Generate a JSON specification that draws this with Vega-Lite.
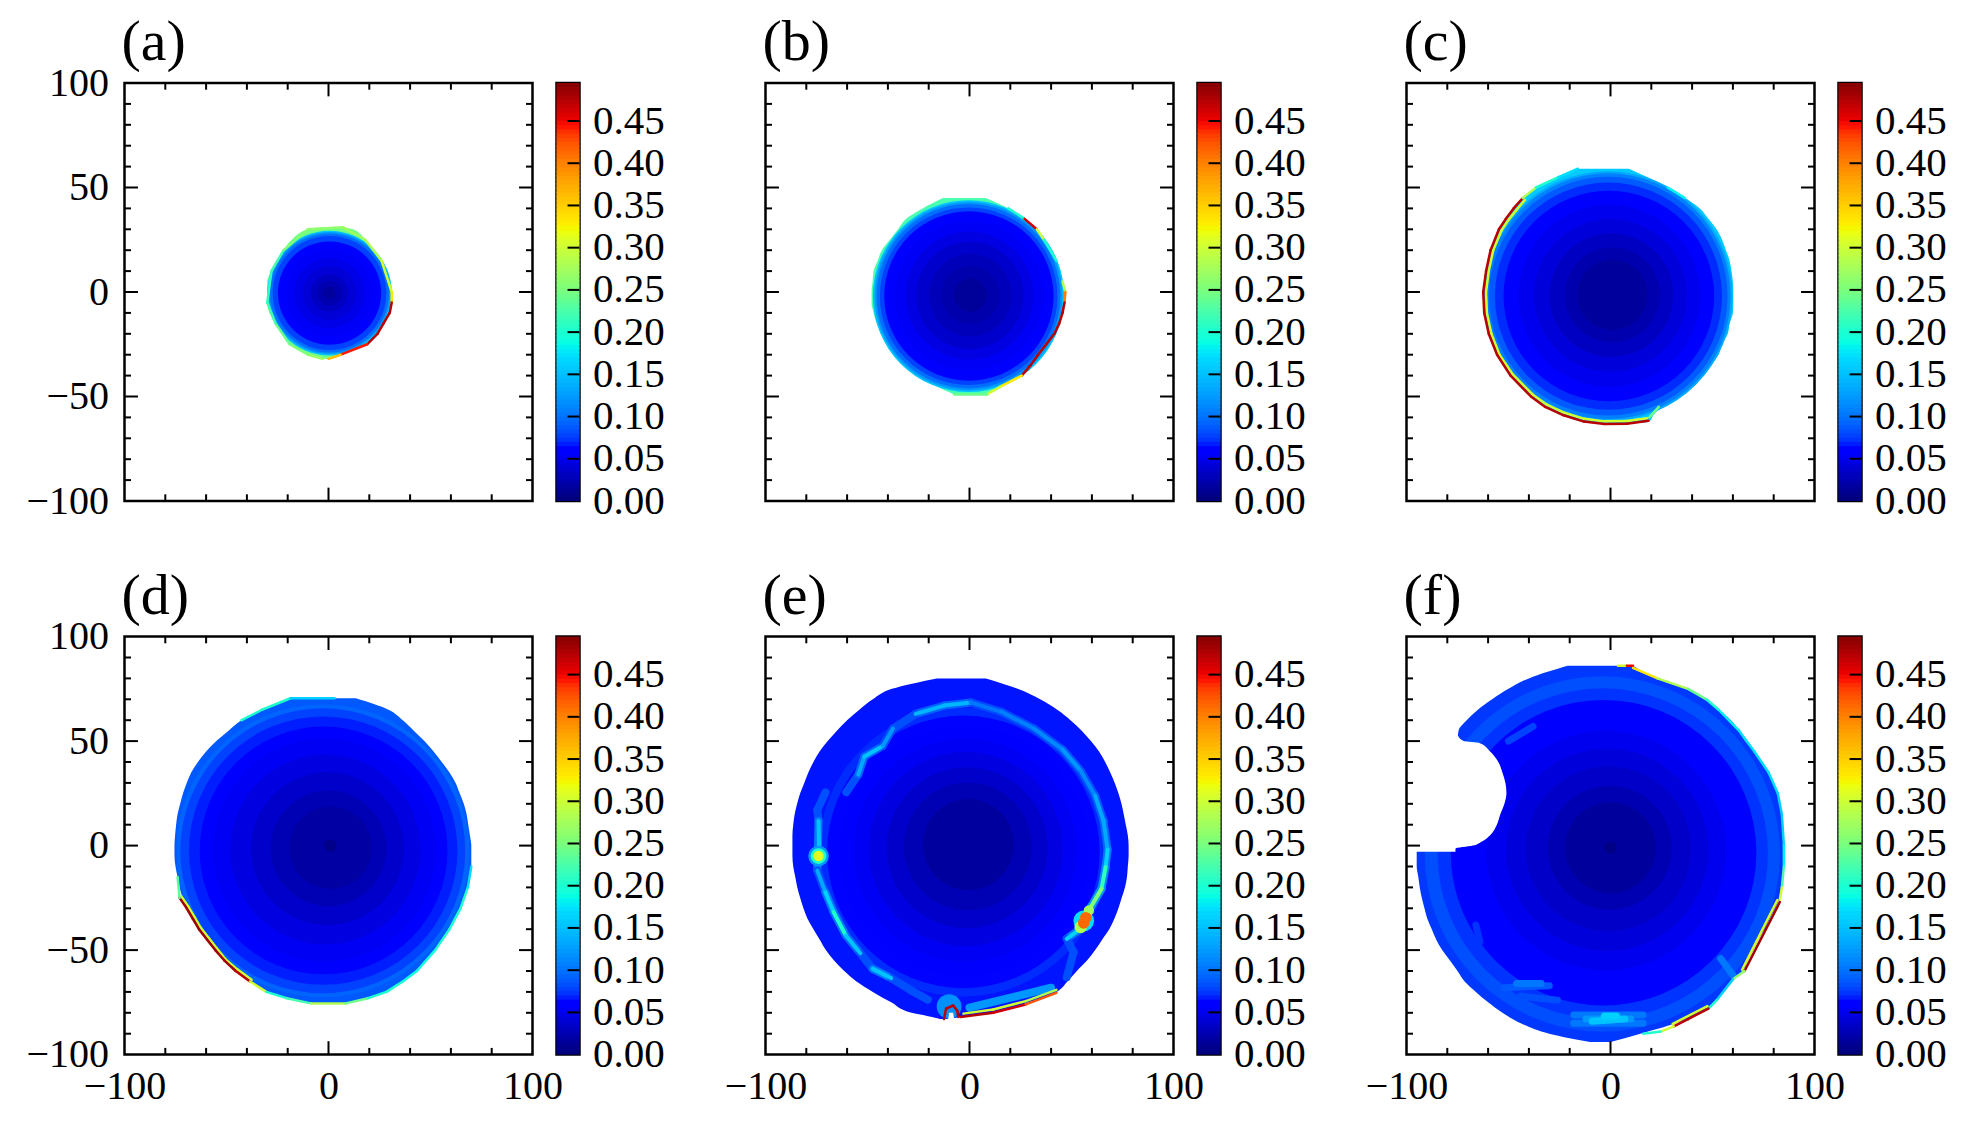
{"$schema":"https://vega.github.io/schema/vega-lite/v6.json","padding":{"left":24.5,"top":12,"right":10,"bottom":5},"background":"white",
"config":{"view":{"stroke":"black","strokeWidth":2.5},"axis":{"grid":false,"ticks":false,"domain":false,"title":null,"labelFont":"Liberation Serif","labelFontSize":40,"labelColor":"black","labelFlush":false,"labelOverlap":false,"labelBound":false},"title":{"font":"Liberation Serif","fontSize":58,"fontWeight":"normal","color":"black","anchor":"start","frame":"group","offset":10,"dx":-3}},
"datasets":{
"ticks":[{"x":-80,"y":-100,"x2":-80,"y2":-96.8},{"x":-60,"y":-100,"x2":-60,"y2":-96.8},{"x":-40,"y":-100,"x2":-40,"y2":-96.8},{"x":-20,"y":-100,"x2":-20,"y2":-96.8},{"x":0,"y":-100,"x2":0,"y2":-93.6},{"x":20,"y":-100,"x2":20,"y2":-96.8},{"x":40,"y":-100,"x2":40,"y2":-96.8},{"x":60,"y":-100,"x2":60,"y2":-96.8},{"x":80,"y":-100,"x2":80,"y2":-96.8},
{"x":-80,"y":100,"x2":-80,"y2":96.8},{"x":-60,"y":100,"x2":-60,"y2":96.8},{"x":-40,"y":100,"x2":-40,"y2":96.8},{"x":-20,"y":100,"x2":-20,"y2":96.8},{"x":0,"y":100,"x2":0,"y2":93.6},{"x":20,"y":100,"x2":20,"y2":96.8},{"x":40,"y":100,"x2":40,"y2":96.8},{"x":60,"y":100,"x2":60,"y2":96.8},{"x":80,"y":100,"x2":80,"y2":96.8},
{"x":-100,"y":90,"x2":-96.8,"y2":90},{"x":-100,"y":80,"x2":-96.8,"y2":80},{"x":-100,"y":70,"x2":-96.8,"y2":70},{"x":-100,"y":60,"x2":-96.8,"y2":60},{"x":-100,"y":50,"x2":-93.4,"y2":50},{"x":-100,"y":40,"x2":-96.8,"y2":40},{"x":-100,"y":30,"x2":-96.8,"y2":30},{"x":-100,"y":20,"x2":-96.8,"y2":20},{"x":-100,"y":10,"x2":-96.8,"y2":10},{"x":-100,"y":0,"x2":-93.4,"y2":0},{"x":-100,"y":-10,"x2":-96.8,"y2":-10},{"x":-100,"y":-20,"x2":-96.8,"y2":-20},{"x":-100,"y":-30,"x2":-96.8,"y2":-30},{"x":-100,"y":-40,"x2":-96.8,"y2":-40},{"x":-100,"y":-50,"x2":-93.4,"y2":-50},{"x":-100,"y":-60,"x2":-96.8,"y2":-60},{"x":-100,"y":-70,"x2":-96.8,"y2":-70},{"x":-100,"y":-80,"x2":-96.8,"y2":-80},{"x":-100,"y":-90,"x2":-96.8,"y2":-90},
{"x":100,"y":90,"x2":96.8,"y2":90},{"x":100,"y":80,"x2":96.8,"y2":80},{"x":100,"y":70,"x2":96.8,"y2":70},{"x":100,"y":60,"x2":96.8,"y2":60},{"x":100,"y":50,"x2":93.4,"y2":50},{"x":100,"y":40,"x2":96.8,"y2":40},{"x":100,"y":30,"x2":96.8,"y2":30},{"x":100,"y":20,"x2":96.8,"y2":20},{"x":100,"y":10,"x2":96.8,"y2":10},{"x":100,"y":0,"x2":93.4,"y2":0},{"x":100,"y":-10,"x2":96.8,"y2":-10},{"x":100,"y":-20,"x2":96.8,"y2":-20},{"x":100,"y":-30,"x2":96.8,"y2":-30},{"x":100,"y":-40,"x2":96.8,"y2":-40},{"x":100,"y":-50,"x2":93.4,"y2":-50},{"x":100,"y":-60,"x2":96.8,"y2":-60},{"x":100,"y":-70,"x2":96.8,"y2":-70},{"x":100,"y":-80,"x2":96.8,"y2":-80},{"x":100,"y":-90,"x2":96.8,"y2":-90}],
"bar":[{"v":0,"w":0.006},{"v":0.005,"w":0.011},{"v":0.01,"w":0.016},{"v":0.015,"w":0.021},{"v":0.02,"w":0.026},{"v":0.025,"w":0.031},{"v":0.03,"w":0.036},{"v":0.035,"w":0.041},{"v":0.04,"w":0.046},{"v":0.045,"w":0.051},{"v":0.05,"w":0.056},{"v":0.055,"w":0.061},{"v":0.06,"w":0.066},{"v":0.065,"w":0.071},{"v":0.07,"w":0.076},{"v":0.075,"w":0.081},{"v":0.08,"w":0.086},{"v":0.085,"w":0.091},{"v":0.09,"w":0.096},{"v":0.095,"w":0.101},{"v":0.1,"w":0.106},{"v":0.105,"w":0.111},{"v":0.11,"w":0.116},{"v":0.115,"w":0.121},{"v":0.12,"w":0.126},{"v":0.125,"w":0.131},{"v":0.13,"w":0.136},{"v":0.135,"w":0.141},{"v":0.14,"w":0.146},{"v":0.145,"w":0.151},{"v":0.15,"w":0.156},{"v":0.155,"w":0.161},{"v":0.16,"w":0.166},{"v":0.165,"w":0.171},{"v":0.17,"w":0.176},{"v":0.175,"w":0.181},{"v":0.18,"w":0.186},{"v":0.185,"w":0.191},{"v":0.19,"w":0.196},{"v":0.195,"w":0.201},{"v":0.2,"w":0.206},{"v":0.205,"w":0.211},{"v":0.21,"w":0.216},{"v":0.215,"w":0.221},{"v":0.22,"w":0.226},{"v":0.225,"w":0.231},{"v":0.23,"w":0.236},{"v":0.235,"w":0.241},{"v":0.24,"w":0.246},{"v":0.245,"w":0.251},{"v":0.25,"w":0.256},{"v":0.255,"w":0.261},{"v":0.26,"w":0.266},{"v":0.265,"w":0.271},{"v":0.27,"w":0.276},{"v":0.275,"w":0.281},{"v":0.28,"w":0.286},{"v":0.285,"w":0.291},{"v":0.29,"w":0.296},{"v":0.295,"w":0.301},{"v":0.3,"w":0.306},{"v":0.305,"w":0.311},{"v":0.31,"w":0.316},{"v":0.315,"w":0.321},{"v":0.32,"w":0.326},{"v":0.325,"w":0.331},{"v":0.33,"w":0.336},{"v":0.335,"w":0.341},{"v":0.34,"w":0.346},{"v":0.345,"w":0.351},{"v":0.35,"w":0.356},{"v":0.355,"w":0.361},{"v":0.36,"w":0.366},{"v":0.365,"w":0.371},{"v":0.37,"w":0.376},{"v":0.375,"w":0.381},{"v":0.38,"w":0.386},{"v":0.385,"w":0.391},{"v":0.39,"w":0.396},{"v":0.395,"w":0.401},{"v":0.4,"w":0.406},{"v":0.405,"w":0.411},{"v":0.41,"w":0.416},{"v":0.415,"w":0.421},{"v":0.42,"w":0.426},{"v":0.425,"w":0.431},{"v":0.43,"w":0.436},{"v":0.435,"w":0.441},{"v":0.44,"w":0.446},{"v":0.445,"w":0.451},{"v":0.45,"w":0.456},{"v":0.455,"w":0.461},{"v":0.46,"w":0.466},{"v":0.465,"w":0.471},{"v":0.47,"w":0.476},{"v":0.475,"w":0.481},{"v":0.48,"w":0.486},{"v":0.485,"w":0.491},{"v":0.49,"w":0.495}],
"barticks":[{"v":0.05,"x":0.48,"x2":1},{"v":0.1,"x":0.48,"x2":1},{"v":0.15,"x":0.48,"x2":1},{"v":0.2,"x":0.48,"x2":1},{"v":0.25,"x":0.48,"x2":1},{"v":0.3,"x":0.48,"x2":1},{"v":0.35,"x":0.48,"x2":1},{"v":0.4,"x":0.48,"x2":1},{"v":0.45,"x":0.48,"x2":1}],
"sa":[{"y":31,"x":-3,"x2":7},{"y":30,"x":-10,"x2":12},{"y":25,"x":-18,"x2":18},{"y":20,"x":-22,"x2":22},{"y":15,"x":-25,"x2":26},{"y":10,"x":-28,"x2":28},{"y":5,"x":-30,"x2":30},{"y":0,"x":-30,"x2":31},{"y":-5,"x":-30,"x2":31},{"y":-10,"x":-29,"x2":30},{"y":-15,"x":-26,"x2":27},{"y":-20,"x":-23,"x2":24},{"y":-25,"x":-19,"x2":19},{"y":-30,"x":-10,"x2":6},{"y":-32,"x":-3,"x2":0}],
"da":[{"x":0.5,"y":-0.5,"r":30.2,"v":0.15},{"x":0.5,"y":-0.5,"r":29.6,"v":0.12},{"x":0.5,"y":-0.5,"r":28.8,"v":0.095},{"x":0.5,"y":-0.5,"r":27.5,"v":0.075},{"x":0.5,"y":-0.5,"r":25,"v":0.061},{"x":0.5,"y":-0.5,"r":21,"v":0.052},{"x":0.5,"y":-0.5,"r":17,"v":0.045},{"x":0.5,"y":-0.5,"r":13,"v":0.038},{"x":0.5,"y":-0.5,"r":9,"v":0.03},{"x":0.5,"y":-0.5,"r":6,"v":0.022},{"x":0.5,"y":-0.5,"r":3,"v":0.013}],
"ra":[{"x":-3,"y":-32,"x2":-10,"y2":-30,"v":0.27},{"x":-10,"y":-30,"x2":-19,"y2":-25,"v":0.25},{"x":-19,"y":-25,"x2":-26,"y2":-15,"v":0.24},{"x":-26,"y":-15,"x2":-30,"y2":-5,"v":0.22},{"x":-30,"y":-5,"x2":-28,"y2":10,"v":0.21},{"x":-28,"y":10,"x2":-22,"y2":20,"v":0.22},{"x":-22,"y":20,"x2":-10,"y2":30,"v":0.25},{"x":-10,"y":30,"x2":7,"y2":31,"v":0.26},{"x":7,"y":31,"x2":18,"y2":25,"v":0.27},{"x":18,"y":25,"x2":26,"y2":15,"v":0.28},{"x":26,"y":15,"x2":31,"y2":0,"v":0.3},{"x":31,"y":0,"x2":31,"y2":-5,"v":0.33},{"x":31,"y":-5,"x2":30,"y2":-10,"v":0.47},{"x":30,"y":-10,"x2":27,"y2":-15,"v":0.47},{"x":27,"y":-15,"x2":24,"y2":-20,"v":0.47},{"x":24,"y":-20,"x2":19,"y2":-25,"v":0.47},{"x":19,"y":-25,"x2":6,"y2":-30,"v":0.44},{"x":6,"y":-30,"x2":0,"y2":-32,"v":0.36}],
"sb":[{"y":45,"x":-13,"x2":8},{"y":40,"x":-23,"x2":19},{"y":35,"x":-31,"x2":27},{"y":30,"x":-35,"x2":33},{"y":25,"x":-39,"x2":36.5},{"y":20,"x":-43,"x2":39.6},{"y":15,"x":-45,"x2":42.6},{"y":10,"x":-47,"x2":44.6},{"y":5,"x":-47.5,"x2":45.6},{"y":0,"x":-48,"x2":47},{"y":-5,"x":-48,"x2":46.6},{"y":-10,"x":-47,"x2":45.6},{"y":-15,"x":-45.5,"x2":44},{"y":-20,"x":-42.5,"x2":41.6},{"y":-25,"x":-39.5,"x2":37.6},{"y":-30,"x":-35.5,"x2":33.6},{"y":-35,"x":-31.5,"x2":30},{"y":-40,"x":-24.5,"x2":25.6},{"y":-45,"x":-16.5,"x2":15.6},{"y":-49,"x":-7.5,"x2":8.6}],
"db":[{"x":-0.5,"y":-2,"r":46.3,"v":0.15},{"x":-0.5,"y":-2,"r":45.5,"v":0.12},{"x":-0.5,"y":-2,"r":44.5,"v":0.095},{"x":-0.4,"y":-2,"r":43,"v":0.075},{"x":-0.3,"y":-1.9,"r":41,"v":0.06},{"x":-0.2,"y":-1.8,"r":36,"v":0.051},{"x":0,"y":-1.7,"r":31,"v":0.043},{"x":0.2,"y":-1.6,"r":26,"v":0.034},{"x":0.4,"y":-1.5,"r":20,"v":0.026},{"x":0.5,"y":-1.5,"r":14,"v":0.02},{"x":0.5,"y":-1.5,"r":8,"v":0.012}],
"rb":[{"x":19,"y":40,"x2":27,"y2":35,"v":0.2},{"x":27,"y":35,"x2":33,"y2":30,"v":0.46},{"x":33,"y":30,"x2":36.5,"y2":25,"v":0.3},{"x":36.5,"y":25,"x2":42.6,"y2":15,"v":0.2},{"x":45.6,"y":5,"x2":47,"y2":0,"v":0.28},{"x":47,"y":0,"x2":46.6,"y2":-5,"v":0.4},{"x":46.6,"y":-5,"x2":45.6,"y2":-10,"v":0.47},{"x":45.6,"y":-10,"x2":44,"y2":-15,"v":0.47},{"x":44,"y":-15,"x2":41.6,"y2":-20,"v":0.47},{"x":41.6,"y":-20,"x2":37.6,"y2":-25,"v":0.47},{"x":37.6,"y":-25,"x2":33.6,"y2":-30,"v":0.47},{"x":33.6,"y":-30,"x2":30,"y2":-35,"v":0.47},{"x":30,"y":-35,"x2":25.6,"y2":-40,"v":0.47},{"x":25.6,"y":-40,"x2":15.6,"y2":-45,"v":0.33},{"x":15.6,"y":-45,"x2":8.6,"y2":-49,"v":0.3},{"x":8.6,"y":-49,"x2":-7.5,"y2":-49,"v":0.24}],
"sc":[{"y":59,"x":-16,"x2":9},{"y":55,"x":-25.5,"x2":18},{"y":50,"x":-36.5,"x2":28},{"y":45,"x":-43,"x2":36.5},{"y":40,"x":-47.5,"x2":43.8},{"y":35,"x":-51.3,"x2":48},{"y":30,"x":-54.7,"x2":52},{"y":25,"x":-56.8,"x2":54.7},{"y":20,"x":-58.8,"x2":56.6},{"y":15,"x":-60,"x2":58.4},{"y":10,"x":-61,"x2":59.3},{"y":5,"x":-62,"x2":60},{"y":0,"x":-62.4,"x2":60.2},{"y":-5,"x":-62.4,"x2":60.2},{"y":-10,"x":-61.9,"x2":60},{"y":-15,"x":-60.8,"x2":58.4},{"y":-20,"x":-59.7,"x2":57.5},{"y":-25,"x":-58,"x2":54.7},{"y":-30,"x":-55.6,"x2":53},{"y":-35,"x":-52.8,"x2":49.3},{"y":-40,"x":-49,"x2":45.6},{"y":-45,"x":-44.7,"x2":39.2},{"y":-50,"x":-39,"x2":32.8},{"y":-55,"x":-32,"x2":25},{"y":-59,"x":-23,"x2":21},{"y":-62,"x":-13,"x2":19},{"y":-63.2,"x":-3,"x2":7.3}],
"dc":[{"x":-1.2,"y":-2,"r":60.3,"v":0.13},{"x":-1.2,"y":-2,"r":59.3,"v":0.105},{"x":-1.1,"y":-2,"r":57.8,"v":0.085},{"x":-1,"y":-2,"r":55,"v":0.068},{"x":-0.8,"y":-1.9,"r":51,"v":0.056},{"x":-0.5,"y":-1.8,"r":44,"v":0.048},{"x":0,"y":-1.6,"r":37,"v":0.04},{"x":0.5,"y":-1.5,"r":30,"v":0.03},{"x":0.9,"y":-1.4,"r":23,"v":0.021},{"x":0.9,"y":-1.4,"r":17,"v":0.013}],
"rc":[{"x":-42,"y":44,"x2":-46.3,"y2":39,"v":0.3},{"x":-46.3,"y":39,"x2":-50,"y2":34.5,"v":0.3},{"x":-50,"y":34.5,"x2":-53.4,"y2":29.5,"v":0.3},{"x":-53.4,"y":29.5,"x2":-57.5,"y2":20,"v":0.3},{"x":-57.5,"y":20,"x2":-59.7,"y2":10,"v":0.3},{"x":-59.7,"y":10,"x2":-61,"y2":0,"v":0.3},{"x":-61,"y":0,"x2":-60.6,"y2":-10,"v":0.3},{"x":-60.6,"y":-10,"x2":-58.4,"y2":-20,"v":0.3},{"x":-58.4,"y":-20,"x2":-54.4,"y2":-30,"v":0.3},{"x":-54.4,"y":-30,"x2":-47.9,"y2":-39.4,"v":0.3},{"x":-47.9,"y":-39.4,"x2":-38.2,"y2":-49,"v":0.3},{"x":-38.2,"y":-49,"x2":-31.4,"y2":-53.8,"v":0.3},{"x":-31.4,"y":-53.8,"x2":-22.6,"y2":-57.8,"v":0.3},{"x":-22.6,"y":-57.8,"x2":-12.8,"y2":-60.7,"v":0.3},{"x":-12.8,"y":-60.7,"x2":-3,"y2":-61.9,"v":0.3},{"x":-3,"y":-61.9,"x2":8,"y2":-61.7,"v":0.3},{"x":8,"y":-61.7,"x2":18,"y2":-60.4,"v":0.3},
{"x":-43,"y":45,"x2":-47.5,"y2":40,"v":0.47},{"x":-47.5,"y":40,"x2":-51.3,"y2":35,"v":0.47},{"x":-51.3,"y":35,"x2":-54.7,"y2":30,"v":0.47},{"x":-54.7,"y":30,"x2":-58.8,"y2":20,"v":0.47},{"x":-58.8,"y":20,"x2":-61,"y2":10,"v":0.47},{"x":-61,"y":10,"x2":-62.4,"y2":0,"v":0.47},{"x":-62.4,"y":0,"x2":-61.9,"y2":-10,"v":0.47},{"x":-61.9,"y":-10,"x2":-59.7,"y2":-20,"v":0.47},{"x":-59.7,"y":-20,"x2":-55.6,"y2":-30,"v":0.47},{"x":-55.6,"y":-30,"x2":-49,"y2":-40,"v":0.47},{"x":-49,"y":-40,"x2":-39,"y2":-50,"v":0.47},{"x":-39,"y":-50,"x2":-32,"y2":-55,"v":0.47},{"x":-32,"y":-55,"x2":-23,"y2":-59,"v":0.47},{"x":-23,"y":-59,"x2":-13,"y2":-62,"v":0.47},{"x":-13,"y":-62,"x2":-3,"y2":-63.2,"v":0.47},{"x":-3,"y":-63.2,"x2":8,"y2":-63,"v":0.47},{"x":8,"y":-63,"x2":18.6,"y2":-61.6,"v":0.47},
{"x":-43,"y":45,"x2":-36.5,"y2":50,"v":0.28},{"x":-36.5,"y":50,"x2":-25.5,"y2":55,"v":0.2},{"x":-25.5,"y":55,"x2":-16,"y2":59,"v":0.17},{"x":28,"y":50,"x2":36.5,"y2":45,"v":0.18},{"x":23.7,"y":-55,"x2":19,"y2":-60,"v":0.24}],
"sd":[{"y":70.5,"x":-18.6,"x2":13.4},{"y":65,"x":-32.6,"x2":29.4},{"y":60,"x":-42.6,"x2":36.4},{"y":55,"x":-49,"x2":41.8},{"y":50,"x":-55,"x2":47},{"y":45,"x":-60,"x2":51.5},{"y":40,"x":-64,"x2":55.5},{"y":35,"x":-67.3,"x2":59.3},{"y":30,"x":-69.5,"x2":62.3},{"y":25,"x":-71.3,"x2":64.3},{"y":20,"x":-72.7,"x2":66.3},{"y":15,"x":-74,"x2":67.7},{"y":10,"x":-74.7,"x2":68.5},{"y":5,"x":-75.2,"x2":69.3},{"y":0,"x":-75.5,"x2":70},{"y":-5,"x":-75.5,"x2":70},{"y":-10,"x":-75,"x2":70},{"y":-15,"x":-74,"x2":69.3},{"y":-20,"x":-73,"x2":68.3},{"y":-25,"x":-71.5,"x2":66.5},{"y":-30,"x":-69.5,"x2":64.7},{"y":-35,"x":-66.5,"x2":62.3},{"y":-40,"x":-63.5,"x2":59.3},{"y":-45,"x":-59.5,"x2":56},{"y":-50,"x":-55.5,"x2":52.3},{"y":-55,"x":-51,"x2":48.3},{"y":-60,"x":-45.5,"x2":43.3},{"y":-65,"x":-38.5,"x2":36.4},{"y":-70,"x":-30.5,"x2":28.4},{"y":-73,"x":-20.5,"x2":19.4},{"y":-75.5,"x":-8.6,"x2":8.4}],
"dd":[{"x":-2.8,"y":-2.5,"r":71,"v":0.09},{"x":-2.8,"y":-2.5,"r":69,"v":0.075},{"x":-2.6,"y":-2.4,"r":65,"v":0.065},{"x":-2.4,"y":-2.3,"r":60,"v":0.057},{"x":-2,"y":-2.1,"r":54,"v":0.05},{"x":-1.5,"y":-1.9,"r":46,"v":0.042},{"x":-0.5,"y":-1.5,"r":37,"v":0.033},{"x":0,"y":-1.3,"r":28,"v":0.024},{"x":1,"y":-1,"r":20,"v":0.016},{"x":1,"y":0,"r":3,"v":0.004}],
"rd":[{"x":-72.2,"y":-24.2,"x2":-68.7,"y2":-29.2,"v":0.3},{"x":-68.7,"y":-29.2,"x2":-65.7,"y2":-34.2,"v":0.3},{"x":-65.7,"y":-34.2,"x2":-62.7,"y2":-39.2,"v":0.3},{"x":-62.7,"y":-39.2,"x2":-58.7,"y2":-44.2,"v":0.3},{"x":-58.7,"y":-44.2,"x2":-54.7,"y2":-49.2,"v":0.3},{"x":-54.7,"y":-49.2,"x2":-50.7,"y2":-54.2,"v":0.3},{"x":-50.7,"y":-54.2,"x2":-44.7,"y2":-59.2,"v":0.3},{"x":-44.7,"y":-59.2,"x2":-37.7,"y2":-64.2,"v":0.3},
{"x":-73,"y":-25,"x2":-69.5,"y2":-30,"v":0.48},{"x":-69.5,"y":-30,"x2":-66.5,"y2":-35,"v":0.48},{"x":-66.5,"y":-35,"x2":-63.5,"y2":-40,"v":0.48},{"x":-63.5,"y":-40,"x2":-59.5,"y2":-45,"v":0.48},{"x":-59.5,"y":-45,"x2":-55.5,"y2":-50,"v":0.48},{"x":-55.5,"y":-50,"x2":-51,"y2":-55,"v":0.48},{"x":-51,"y":-55,"x2":-45.5,"y2":-60,"v":0.48},{"x":-45.5,"y":-60,"x2":-38.5,"y2":-65,"v":0.47},{"x":-38.5,"y":-65,"x2":-30.5,"y2":-70,"v":0.3},{"x":-30.5,"y":-70,"x2":-20.5,"y2":-73,"v":0.2},{"x":-20.5,"y":-73,"x2":-8.6,"y2":-75.5,"v":0.22},{"x":-8.6,"y":-75.5,"x2":8.4,"y2":-75.5,"v":0.28},{"x":8.4,"y":-75.5,"x2":19.4,"y2":-73,"v":0.24},{"x":19.4,"y":-73,"x2":28.4,"y2":-70,"v":0.2},{"x":28.4,"y":-70,"x2":36.4,"y2":-65,"v":0.2},{"x":36.4,"y":-65,"x2":43.3,"y2":-60,"v":0.19},{"x":43.3,"y":-60,"x2":52.3,"y2":-50,"v":0.19},{"x":52.3,"y":-50,"x2":59.3,"y2":-40,"v":0.2},{"x":59.3,"y":-40,"x2":64.7,"y2":-30,"v":0.2},{"x":64.7,"y":-30,"x2":68.3,"y2":-20,"v":0.2},{"x":68.3,"y":-20,"x2":70,"y2":-10,"v":0.17},{"x":-42.6,"y":60,"x2":-32.6,"y2":65,"v":0.2},{"x":-32.6,"y":65,"x2":-18.6,"y2":70.5,"v":0.2},{"x":-18.6,"y":70.5,"x2":3,"y2":70.5,"v":0.16},{"x":-74,"y":-15,"x2":-73,"y2":-25,"v":0.23}],
"se":[{"y":80,"x":-16,"x2":8},{"y":75,"x":-38,"x2":23.6},{"y":70,"x":-47.4,"x2":34.6},{"y":65,"x":-54,"x2":43},{"y":60,"x":-60,"x2":49.5},{"y":55,"x":-65,"x2":55},{"y":50,"x":-69.5,"x2":59.5},{"y":45,"x":-73.5,"x2":63.5},{"y":40,"x":-76.5,"x2":66.5},{"y":35,"x":-79,"x2":69},{"y":30,"x":-81,"x2":71.2},{"y":25,"x":-83,"x2":73},{"y":20,"x":-84.5,"x2":74.5},{"y":15,"x":-85.7,"x2":75.6},{"y":10,"x":-86.4,"x2":76.6},{"y":5,"x":-86.8,"x2":77.6},{"y":0,"x":-86.8,"x2":78},{"y":-5,"x":-86.8,"x2":78},{"y":-10,"x":-86.4,"x2":77.6},{"y":-15,"x":-85.4,"x2":77.2},{"y":-20,"x":-84.4,"x2":76.2},{"y":-25,"x":-83,"x2":74.6},{"y":-30,"x":-81.4,"x2":73},{"y":-35,"x":-79.4,"x2":71},{"y":-40,"x":-76.5,"x2":68.5},{"y":-45,"x":-73.4,"x2":65},{"y":-50,"x":-70.4,"x2":61.6},{"y":-55,"x":-66.4,"x2":57.6},{"y":-60,"x":-61.4,"x2":52.6},{"y":-65,"x":-55.4,"x2":48},{"y":-70,"x":-47.4,"x2":42.6},{"y":-75,"x":-38.4,"x2":29},{"y":-80,"x":-28.4,"x2":11.6},{"y":-82,"x":-18.4,"x2":-4.4},{"y":-83,"x":-14.4,"x2":-10.4}],
"de":[{"x":-3,"y":-3,"r":70,"v":0.068},{"x":-3,"y":-3,"r":66,"v":0.062},{"x":-2.6,"y":-2.6,"r":60,"v":0.055},{"x":-2.2,"y":-2.2,"r":54,"v":0.05},{"x":-1.8,"y":-1.6,"r":47,"v":0.042},{"x":-1.2,"y":-1,"r":39,"v":0.033},{"x":-0.8,"y":-0.4,"r":31,"v":0.024},{"x":-0.5,"y":0.5,"r":22,"v":0.014}],
"ge":[{"x":-26.4,"y":63,"x2":-12.4,"y2":67,"v":0.09},{"x":-12.4,"y":67,"x2":0.6,"y2":68.5,"v":0.09},{"x":0.6,"y":68.5,"x2":15.6,"y2":64,"v":0.078},{"x":15.6,"y":64,"x2":31.6,"y2":56,"v":0.08},{"x":31.6,"y":56,"x2":45.6,"y2":46,"v":0.08},{"x":45.6,"y":46,"x2":54.6,"y2":35.7,"v":0.085},{"x":54.6,"y":35.7,"x2":61.6,"y2":23.8,"v":0.08},{"x":61.6,"y":23.8,"x2":65.7,"y2":11.8,"v":0.085},{"x":65.7,"y":11.8,"x2":67.7,"y2":-2,"v":0.09},{"x":67.7,"y":-2,"x2":66.7,"y2":-10.4,"v":0.1},{"x":66.7,"y":-10.4,"x2":64.7,"y2":-20.7,"v":0.11},{"x":64.7,"y":-20.7,"x2":59.7,"y2":-29,"v":0.12},{"x":59.7,"y":-29,"x2":52.7,"y2":-41,"v":0.12},{"x":52.7,"y":-41,"x2":47.7,"y2":-44.6,"v":0.1},{"x":47.7,"y":-44.6,"x2":51,"y2":-51,"v":0.08},{"x":51,"y":-51,"x2":47.7,"y2":-63,"v":0.08},
{"x":-74.6,"y":17,"x2":-74,"y2":11.8,"v":0.08},{"x":-74,"y":11.8,"x2":-74.6,"y2":-12,"v":0.1},{"x":-74.6,"y":17,"x2":-70.6,"y2":25.5,"v":0.08},{"x":-74.6,"y":-12,"x2":-70.6,"y2":-22.4,"v":0.08},{"x":-70.6,"y":-22.4,"x2":-66.6,"y2":-31.8,"v":0.1},{"x":-66.6,"y":-31.8,"x2":-60.6,"y2":-43,"v":0.1},{"x":-60.6,"y":-43,"x2":-53.5,"y2":-51.5,"v":0.09},{"x":-53.5,"y":-51.5,"x2":-47.4,"y2":-59,"v":0.08},{"x":-47.4,"y":-59,"x2":-38.4,"y2":-63.4,"v":0.1},{"x":-38.4,"y":-63.4,"x2":-28.4,"y2":-69.4,"v":0.08},{"x":-28.4,"y":-69.4,"x2":-20.4,"y2":-73.7,"v":0.08},{"x":-60.4,"y":25.5,"x2":-54.5,"y2":34,"v":0.08},{"x":-54.5,"y":34,"x2":-51.5,"y2":42.6,"v":0.09},{"x":-51.5,"y":42.6,"x2":-42.5,"y2":47.7,"v":0.09},{"x":-42.5,"y":47.7,"x2":-37.5,"y2":56,"v":0.08},{"x":-37.5,"y":56,"x2":-26.4,"y2":63,"v":0.08},{"x":0,"y":-77.5,"x2":40,"y2":-68,"v":0.12}],
"ce":[{"x":-26.4,"y":63,"x2":-12.4,"y2":67,"v":0.14},{"x":-12.4,"y":67,"x2":0.6,"y2":68.5,"v":0.14},{"x":0.6,"y":68.5,"x2":15.6,"y2":64,"v":0.1},{"x":15.6,"y":64,"x2":31.6,"y2":56,"v":0.105},{"x":31.6,"y":56,"x2":45.6,"y2":46,"v":0.11},{"x":45.6,"y":46,"x2":54.6,"y2":35.7,"v":0.12},{"x":54.6,"y":35.7,"x2":61.6,"y2":23.8,"v":0.11},{"x":61.6,"y":23.8,"x2":65.7,"y2":11.8,"v":0.13},{"x":65.7,"y":11.8,"x2":67.7,"y2":-2,"v":0.13},{"x":67.7,"y":-2,"x2":66.7,"y2":-10.4,"v":0.16},{"x":66.7,"y":-10.4,"x2":64.7,"y2":-20.7,"v":0.21},{"x":64.7,"y":-20.7,"x2":59.7,"y2":-29,"v":0.25},{"x":52.7,"y":-41,"x2":47.7,"y2":-44.6,"v":0.16},
{"x":-74,"y":11.8,"x2":-73.8,"y2":0,"v":0.15},{"x":-74.6,"y":-12,"x2":-70.6,"y2":-22.4,"v":0.13},{"x":-70.6,"y":-22.4,"x2":-66.6,"y2":-31.8,"v":0.16},{"x":-66.6,"y":-31.8,"x2":-60.6,"y2":-43,"v":0.2},{"x":-60.6,"y":-43,"x2":-53.5,"y2":-51.5,"v":0.15},{"x":-47.4,"y":-59,"x2":-38.4,"y2":-63.4,"v":0.15},{"x":-54.5,"y":34,"x2":-51.5,"y2":42.6,"v":0.13},{"x":-51.5,"y":42.6,"x2":-42.5,"y2":47.7,"v":0.15},{"x":-42.5,"y":47.7,"x2":-37.5,"y2":56,"v":0.12}],
"he":[{"x":-74,"y":-5,"r":5,"v":0.12},{"x":-74,"y":-5,"r":3.8,"v":0.2},{"x":-74,"y":-5,"r":2.5,"v":0.31},{"x":-10,"y":-77,"r":6,"v":0.115},{"x":56,"y":-36,"r":5,"v":0.17},{"x":54.5,"y":-39,"r":3,"v":0.28},{"x":58.5,"y":-31,"r":2.5,"v":0.27},{"x":57,"y":-34.5,"r":2.8,"v":0.41},{"x":56,"y":-37,"r":2.8,"v":0.41}],
"re":[{"x":-3,"y":-80.4,"x2":11.6,"y2":-78.4,"v":0.3},{"x":11.6,"y":-78.4,"x2":27.6,"y2":-74.4,"v":0.3},{"x":27.6,"y":-74.4,"x2":42.6,"y2":-69,"v":0.28},{"x":-4.4,"y":-82,"x2":11.6,"y2":-80,"v":0.47},{"x":11.6,"y":-80,"x2":27.6,"y2":-76,"v":0.46},{"x":27.6,"y":-76,"x2":42.6,"y2":-70.5,"v":0.42},{"x":-12.5,"y":-83,"x2":-11.5,"y2":-78,"v":0.47},{"x":-11.5,"y":-78,"x2":-8,"y2":-76.5,"v":0.47},{"x":-8,"y":-76.5,"x2":-6,"y2":-79,"v":0.47},{"x":-6,"y":-79,"x2":-5.5,"y2":-82,"v":0.47}],
"be":[{"y":-83.5,"x":-10.5,"x2":-7.5},{"y":-80,"x":-10,"x2":-8}],
"sf":[{"y":86,"x":-21,"x2":11},{"y":80,"x":-40,"x2":23},{"y":75,"x":-50,"x2":38},{"y":70,"x":-58,"x2":47},{"y":65,"x":-65,"x2":53},{"y":60,"x":-70.5,"x2":59},{"y":55,"x":-74.5,"x2":63},{"y":50,"x":-75,"x2":66},{"y":45,"x":-70,"x2":70.5},{"y":40,"x":-70,"x2":74.5},{"y":35,"x":-70,"x2":77.5},{"y":30,"x":-70,"x2":80},{"y":25,"x":-70,"x2":82},{"y":20,"x":-70,"x2":83},{"y":15,"x":-70,"x2":84},{"y":10,"x":-70,"x2":84.5},{"y":5,"x":-70,"x2":84.8},{"y":0,"x":-90,"x2":85},{"y":-1.5,"x":-95,"x2":85},{"y":-5,"x":-95,"x2":85},{"y":-10,"x":-95,"x2":85},{"y":-15,"x":-94.2,"x2":84.5},{"y":-20,"x":-93.5,"x2":84},{"y":-25,"x":-92.5,"x2":83},{"y":-30,"x":-91.2,"x2":80.7},{"y":-35,"x":-89.8,"x2":78},{"y":-40,"x":-87.6,"x2":75.5},{"y":-45,"x":-85.4,"x2":72.5},{"y":-50,"x":-82.5,"x2":70},{"y":-55,"x":-78.7,"x2":67.3},{"y":-60,"x":-75,"x2":64.8},{"y":-65,"x":-71.5,"x2":59},{"y":-70,"x":-66,"x2":55},{"y":-75,"x":-60,"x2":51},{"y":-80,"x":-53,"x2":44},{"y":-85,"x":-44,"x2":32},{"y":-90,"x":-30,"x2":14.6},{"y":-94,"x":-10,"x2":0}],
"df":[{"x":-4,"y":-4,"r":86,"v":0.08},{"x":-3.8,"y":-3.8,"r":80,"v":0.07},{"x":-3.4,"y":-3.4,"r":74,"v":0.06},{"x":-2.8,"y":-2.8,"r":66,"v":0.054},{"x":-2.2,"y":-2.4,"r":58,"v":0.048},{"x":-1.6,"y":-2,"r":49,"v":0.04},{"x":-1,"y":-1.5,"r":40,"v":0.032},{"x":-0.4,"y":-1,"r":30,"v":0.023},{"x":0,"y":-1,"r":22,"v":0.013},{"x":0,"y":-1,"r":3,"v":0.003}],
"gf":[{"x":-50,"y":50,"x2":-38,"y2":57,"v":0.075},{"x":-66,"y":-38,"x2":-64,"y2":-46,"v":0.07},{"x":-52,"y":-68,"x2":-30,"y2":-67,"v":0.085},{"x":-44,"y":-72,"x2":-26,"y2":-74,"v":0.08},{"x":-46,"y":-66,"x2":-34,"y2":-66,"v":0.1},{"x":-18,"y":-81,"x2":16,"y2":-81,"v":0.1},{"x":-18,"y":-85,"x2":16,"y2":-85,"v":0.1},{"x":-12,"y":-83,"x2":10,"y2":-83,"v":0.12},{"x":-9,"y":-84,"x2":7,"y2":-83,"v":0.15},{"x":-3,"y":-81.5,"x2":3,"y2":-81.5,"v":0.16},{"x":54,"y":-54,"x2":60,"y2":-62,"v":0.1}],
"rf":[{"x":3.6,"y":86,"x2":8,"y2":86,"v":0.3},{"x":8,"y":86,"x2":11,"y2":86,"v":0.45},{"x":11,"y":85,"x2":23,"y2":80,"v":0.33},{"x":23,"y":80,"x2":38,"y2":75,"v":0.28},{"x":38,"y":75,"x2":47,"y2":70,"v":0.24},{"x":47,"y":70,"x2":53,"y2":65,"v":0.2},{"x":53,"y":65,"x2":63,"y2":55,"v":0.18},{"x":63,"y":55,"x2":70.5,"y2":45,"v":0.17},{"x":70.5,"y":45,"x2":77.5,"y2":35,"v":0.17},{"x":77.5,"y":35,"x2":82,"y2":25,"v":0.17},{"x":82,"y":25,"x2":84,"y2":15,"v":0.16},{"x":84,"y":15,"x2":85,"y2":0,"v":0.16},{"x":85,"y":0,"x2":85,"y2":-10,"v":0.18},{"x":85,"y":-10,"x2":84,"y2":-20,"v":0.22},{"x":84,"y":-20,"x2":83,"y2":-26,"v":0.3},
{"x":81.8,"y":-26,"x2":64.5,"y2":-59.4,"v":0.3},{"x":83,"y":-27,"x2":65.7,"y2":-60,"v":0.48},{"x":65.7,"y":-60,"x2":60,"y2":-64,"v":0.26},{"x":60,"y":-64,"x2":52,"y2":-74,"v":0.16},{"x":52,"y":-74,"x2":48,"y2":-78,"v":0.2},{"x":47.5,"y":-76.8,"x2":30.5,"y2":-85.3,"v":0.3},{"x":48,"y":-78,"x2":38,"y2":-83,"v":0.47},{"x":38,"y":-83,"x2":31,"y2":-86.5,"v":0.47},{"x":31,"y":-86.5,"x2":24.6,"y2":-89,"v":0.3},{"x":24.6,"y":-89,"x2":16,"y2":-90,"v":0.2}],
"bf":[{"y":53,"x":-99,"x2":-75},{"y":50,"x":-99,"x2":-72},{"y":49,"x":-99,"x2":-64},{"y":45,"x":-99,"x2":-59},{"y":40,"x":-99,"x2":-55},{"y":35,"x":-99,"x2":-53},{"y":30,"x":-99,"x2":-51.5},{"y":25,"x":-99,"x2":-51},{"y":20,"x":-99,"x2":-52},{"y":15,"x":-99,"x2":-54},{"y":10,"x":-99,"x2":-55.7},{"y":5,"x":-99,"x2":-59},{"y":2,"x":-99,"x2":-63},{"y":0,"x":-99,"x2":-67.5},{"y":-1.5,"x":-99,"x2":-76},{"y":-3,"x":-99,"x2":-76}]
},
"columns":8,"spacing":{"column":24,"row":135.6},"bounds":"flush",
"concat":[
{"title":{"text":"(a)","offset":-9},"width":408,"height":418,"encoding":{"x":{"field":"x","type":"quantitative","scale":{"domain":[-100,100],"nice":false},"axis":{"labels":false}},"y":{"field":"y","type":"quantitative","scale":{"domain":[-100,100],"nice":false},"axis":{"values":[-100,-50,0,50,100],"labelPadding":16}},"color":{"field":"v","type":"quantitative","scale":{"domain":[0,0.0545,0.0619,0.1683,0.1856,0.2475,0.3168,0.3267,0.4406,0.4505,0.495],"range":["#00007f","#0000ff","#0000ff","#00dbff","#15ffe2","#7bff7b","#eeff08","#ffec00","#ff1300","#e80000","#7f0000"]},"legend":null}},"layer":[
{"data":{"name":"sa"},"mark":{"type":"area","orient":"horizontal","interpolate":"monotone"},"encoding":{"x2":{"field":"x2"},"color":{"value":"#72ff84"}}},
{"data":{"name":"da"},"mark":{"type":"point","filled":true,"opacity":1,"strokeWidth":0},"encoding":{"size":{"field":"r","type":"quantitative","scale":{"type":"pow","exponent":2,"domain":[0,100],"range":[0,170569]},"legend":null}}},
{"data":{"name":"ra"},"mark":{"type":"rule","strokeWidth":2.5,"strokeCap":"round"},"encoding":{"x2":{"field":"x2"},"y2":{"field":"y2"}}},
{"data":{"name":"ticks"},"mark":{"type":"rule","strokeWidth":2,"color":"black"},"encoding":{"x2":{"field":"x2"},"y2":{"field":"y2"},"color":{"value":"black"}}}
]},
{"width":23,"height":418,"data":{"name":"bar"},"encoding":{"y":{"field":"v","type":"quantitative","scale":{"domain":[0,0.495],"nice":false},"axis":{"orient":"right","values":[0,0.05,0.1,0.15,0.2,0.25,0.3,0.35,0.4,0.45],"format":".2f","labelFontSize":41,"labelPadding":13}}},"layer":[
{"mark":{"type":"rect"},"encoding":{"y2":{"field":"w"},"color":{"field":"v","type":"quantitative","scale":{"domain":[0,0.0545,0.0619,0.1683,0.1856,0.2475,0.3168,0.3267,0.4406,0.4505,0.495],"range":["#00007f","#0000ff","#0000ff","#00dbff","#15ffe2","#7bff7b","#eeff08","#ffec00","#ff1300","#e80000","#7f0000"]},"legend":null}}},
{"data":{"name":"barticks"},"mark":{"type":"rule","strokeWidth":2,"color":"black"},"encoding":{"x":{"field":"x","type":"quantitative","scale":{"domain":[0,1]},"axis":null},"x2":{"field":"x2"}}}
]},
{"width":138,"height":418,"view":{"stroke":null},"data":{"values":[{"t":""}]},"mark":{"type":"text"},"encoding":{"text":{"field":"t"}}},
{"title":"(b)","width":408,"height":418,"encoding":{"x":{"field":"x","type":"quantitative","scale":{"domain":[-100,100],"nice":false},"axis":{"labels":false}},"y":{"field":"y","type":"quantitative","scale":{"domain":[-100,100],"nice":false},"axis":{"labels":false}},"color":{"field":"v","type":"quantitative","scale":{"domain":[0,0.0545,0.0619,0.1683,0.1856,0.2475,0.3168,0.3267,0.4406,0.4505,0.495],"range":["#00007f","#0000ff","#0000ff","#00dbff","#15ffe2","#7bff7b","#eeff08","#ffec00","#ff1300","#e80000","#7f0000"]},"legend":null}},"layer":[
{"data":{"name":"sb"},"mark":{"type":"area","orient":"horizontal","interpolate":"monotone"},"encoding":{"x2":{"field":"x2"},"color":{"value":"#4bffb0"}}},
{"data":{"name":"db"},"mark":{"type":"point","filled":true,"opacity":1,"strokeWidth":0},"encoding":{"size":{"field":"r","type":"quantitative","scale":{"type":"pow","exponent":2,"domain":[0,100],"range":[0,170569]},"legend":null}}},
{"data":{"name":"rb"},"mark":{"type":"rule","strokeWidth":2.5,"strokeCap":"round"},"encoding":{"x2":{"field":"x2"},"y2":{"field":"y2"}}},
{"data":{"name":"ticks"},"mark":{"type":"rule","strokeWidth":2,"color":"black"},"encoding":{"x2":{"field":"x2"},"y2":{"field":"y2"},"color":{"value":"black"}}}
]},
{"width":23,"height":418,"data":{"name":"bar"},"encoding":{"y":{"field":"v","type":"quantitative","scale":{"domain":[0,0.495],"nice":false},"axis":{"orient":"right","values":[0,0.05,0.1,0.15,0.2,0.25,0.3,0.35,0.4,0.45],"format":".2f","labelFontSize":41,"labelPadding":13}}},"layer":[
{"mark":{"type":"rect"},"encoding":{"y2":{"field":"w"},"color":{"field":"v","type":"quantitative","scale":{"domain":[0,0.0545,0.0619,0.1683,0.1856,0.2475,0.3168,0.3267,0.4406,0.4505,0.495],"range":["#00007f","#0000ff","#0000ff","#00dbff","#15ffe2","#7bff7b","#eeff08","#ffec00","#ff1300","#e80000","#7f0000"]},"legend":null}}},
{"data":{"name":"barticks"},"mark":{"type":"rule","strokeWidth":2,"color":"black"},"encoding":{"x":{"field":"x","type":"quantitative","scale":{"domain":[0,1]},"axis":null},"x2":{"field":"x2"}}}
]},
{"width":138,"height":418,"view":{"stroke":null},"data":{"values":[{"t":""}]},"mark":{"type":"text"},"encoding":{"text":{"field":"t"}}},
{"title":"(c)","width":408,"height":418,"encoding":{"x":{"field":"x","type":"quantitative","scale":{"domain":[-100,100],"nice":false},"axis":{"labels":false}},"y":{"field":"y","type":"quantitative","scale":{"domain":[-100,100],"nice":false},"axis":{"labels":false}},"color":{"field":"v","type":"quantitative","scale":{"domain":[0,0.0545,0.0619,0.1683,0.1856,0.2475,0.3168,0.3267,0.4406,0.4505,0.495],"range":["#00007f","#0000ff","#0000ff","#00dbff","#15ffe2","#7bff7b","#eeff08","#ffec00","#ff1300","#e80000","#7f0000"]},"legend":null}},"layer":[
{"data":{"name":"sc"},"mark":{"type":"area","orient":"horizontal","interpolate":"monotone"},"encoding":{"x2":{"field":"x2"},"color":{"value":"#00caff"}}},
{"data":{"name":"dc"},"mark":{"type":"point","filled":true,"opacity":1,"strokeWidth":0},"encoding":{"size":{"field":"r","type":"quantitative","scale":{"type":"pow","exponent":2,"domain":[0,100],"range":[0,170569]},"legend":null}}},
{"data":{"name":"rc"},"mark":{"type":"rule","strokeWidth":2.5,"strokeCap":"round"},"encoding":{"x2":{"field":"x2"},"y2":{"field":"y2"}}},
{"data":{"name":"ticks"},"mark":{"type":"rule","strokeWidth":2,"color":"black"},"encoding":{"x2":{"field":"x2"},"y2":{"field":"y2"},"color":{"value":"black"}}}
]},
{"width":23,"height":418,"data":{"name":"bar"},"encoding":{"y":{"field":"v","type":"quantitative","scale":{"domain":[0,0.495],"nice":false},"axis":{"orient":"right","values":[0,0.05,0.1,0.15,0.2,0.25,0.3,0.35,0.4,0.45],"format":".2f","labelFontSize":41,"labelPadding":13}}},"layer":[
{"mark":{"type":"rect"},"encoding":{"y2":{"field":"w"},"color":{"field":"v","type":"quantitative","scale":{"domain":[0,0.0545,0.0619,0.1683,0.1856,0.2475,0.3168,0.3267,0.4406,0.4505,0.495],"range":["#00007f","#0000ff","#0000ff","#00dbff","#15ffe2","#7bff7b","#eeff08","#ffec00","#ff1300","#e80000","#7f0000"]},"legend":null}}},
{"data":{"name":"barticks"},"mark":{"type":"rule","strokeWidth":2,"color":"black"},"encoding":{"x":{"field":"x","type":"quantitative","scale":{"domain":[0,1]},"axis":null},"x2":{"field":"x2"}}}
]},
{"title":{"text":"(d)","offset":-9},"width":408,"height":418,"encoding":{"x":{"field":"x","type":"quantitative","scale":{"domain":[-100,100],"nice":false},"axis":{"values":[-100,0,100],"labelPadding":12}},"y":{"field":"y","type":"quantitative","scale":{"domain":[-100,100],"nice":false},"axis":{"values":[-100,-50,0,50,100],"labelPadding":16}},"color":{"field":"v","type":"quantitative","scale":{"domain":[0,0.0545,0.0619,0.1683,0.1856,0.2475,0.3168,0.3267,0.4406,0.4505,0.495],"range":["#00007f","#0000ff","#0000ff","#00dbff","#15ffe2","#7bff7b","#eeff08","#ffec00","#ff1300","#e80000","#7f0000"]},"legend":null}},"layer":[
{"data":{"name":"sd"},"mark":{"type":"area","orient":"horizontal","interpolate":"monotone"},"encoding":{"x2":{"field":"x2"},"color":{"value":"#0058ff"}}},
{"data":{"name":"dd"},"mark":{"type":"point","filled":true,"opacity":1,"strokeWidth":0},"encoding":{"size":{"field":"r","type":"quantitative","scale":{"type":"pow","exponent":2,"domain":[0,100],"range":[0,170569]},"legend":null}}},
{"data":{"name":"rd"},"mark":{"type":"rule","strokeWidth":2.5,"strokeCap":"round"},"encoding":{"x2":{"field":"x2"},"y2":{"field":"y2"}}},
{"data":{"name":"ticks"},"mark":{"type":"rule","strokeWidth":2,"color":"black"},"encoding":{"x2":{"field":"x2"},"y2":{"field":"y2"},"color":{"value":"black"}}}
]},
{"width":23,"height":418,"data":{"name":"bar"},"encoding":{"y":{"field":"v","type":"quantitative","scale":{"domain":[0,0.495],"nice":false},"axis":{"orient":"right","values":[0,0.05,0.1,0.15,0.2,0.25,0.3,0.35,0.4,0.45],"format":".2f","labelFontSize":41,"labelPadding":13}}},"layer":[
{"mark":{"type":"rect"},"encoding":{"y2":{"field":"w"},"color":{"field":"v","type":"quantitative","scale":{"domain":[0,0.0545,0.0619,0.1683,0.1856,0.2475,0.3168,0.3267,0.4406,0.4505,0.495],"range":["#00007f","#0000ff","#0000ff","#00dbff","#15ffe2","#7bff7b","#eeff08","#ffec00","#ff1300","#e80000","#7f0000"]},"legend":null}}},
{"data":{"name":"barticks"},"mark":{"type":"rule","strokeWidth":2,"color":"black"},"encoding":{"x":{"field":"x","type":"quantitative","scale":{"domain":[0,1]},"axis":null},"x2":{"field":"x2"}}}
]},
{"width":138,"height":418,"view":{"stroke":null},"data":{"values":[{"t":""}]},"mark":{"type":"text"},"encoding":{"text":{"field":"t"}}},
{"title":"(e)","width":408,"height":418,"encoding":{"x":{"field":"x","type":"quantitative","scale":{"domain":[-100,100],"nice":false},"axis":{"values":[-100,0,100],"labelPadding":12}},"y":{"field":"y","type":"quantitative","scale":{"domain":[-100,100],"nice":false},"axis":{"labels":false}},"color":{"field":"v","type":"quantitative","scale":{"domain":[0,0.0545,0.0619,0.1683,0.1856,0.2475,0.3168,0.3267,0.4406,0.4505,0.495],"range":["#00007f","#0000ff","#0000ff","#00dbff","#15ffe2","#7bff7b","#eeff08","#ffec00","#ff1300","#e80000","#7f0000"]},"legend":null}},"layer":[
{"data":{"name":"se"},"mark":{"type":"area","orient":"horizontal","interpolate":"monotone"},"encoding":{"x2":{"field":"x2"},"color":{"value":"#0014ff"}}},
{"data":{"name":"de"},"mark":{"type":"point","filled":true,"opacity":1,"strokeWidth":0},"encoding":{"size":{"field":"r","type":"quantitative","scale":{"type":"pow","exponent":2,"domain":[0,100],"range":[0,170569]},"legend":null}}},
{"data":{"name":"ge"},"mark":{"type":"rule","strokeWidth":8,"strokeCap":"round"},"encoding":{"x2":{"field":"x2"},"y2":{"field":"y2"}}},
{"data":{"name":"ce"},"mark":{"type":"rule","strokeWidth":4,"strokeCap":"round"},"encoding":{"x2":{"field":"x2"},"y2":{"field":"y2"}}},
{"data":{"name":"he"},"mark":{"type":"point","filled":true,"opacity":1,"strokeWidth":0},"encoding":{"size":{"field":"r","type":"quantitative","scale":{"type":"pow","exponent":2,"domain":[0,100],"range":[0,170569]},"legend":null}}},
{"data":{"name":"re"},"mark":{"type":"rule","strokeWidth":2.5,"strokeCap":"round"},"encoding":{"x2":{"field":"x2"},"y2":{"field":"y2"}}},
{"data":{"name":"be"},"mark":{"type":"area","orient":"horizontal"},"encoding":{"x2":{"field":"x2"},"color":{"value":"white"}}},
{"data":{"name":"ticks"},"mark":{"type":"rule","strokeWidth":2,"color":"black"},"encoding":{"x2":{"field":"x2"},"y2":{"field":"y2"},"color":{"value":"black"}}}
]},
{"width":23,"height":418,"data":{"name":"bar"},"encoding":{"y":{"field":"v","type":"quantitative","scale":{"domain":[0,0.495],"nice":false},"axis":{"orient":"right","values":[0,0.05,0.1,0.15,0.2,0.25,0.3,0.35,0.4,0.45],"format":".2f","labelFontSize":41,"labelPadding":13}}},"layer":[
{"mark":{"type":"rect"},"encoding":{"y2":{"field":"w"},"color":{"field":"v","type":"quantitative","scale":{"domain":[0,0.0545,0.0619,0.1683,0.1856,0.2475,0.3168,0.3267,0.4406,0.4505,0.495],"range":["#00007f","#0000ff","#0000ff","#00dbff","#15ffe2","#7bff7b","#eeff08","#ffec00","#ff1300","#e80000","#7f0000"]},"legend":null}}},
{"data":{"name":"barticks"},"mark":{"type":"rule","strokeWidth":2,"color":"black"},"encoding":{"x":{"field":"x","type":"quantitative","scale":{"domain":[0,1]},"axis":null},"x2":{"field":"x2"}}}
]},
{"width":138,"height":418,"view":{"stroke":null},"data":{"values":[{"t":""}]},"mark":{"type":"text"},"encoding":{"text":{"field":"t"}}},
{"title":"(f)","width":408,"height":418,"encoding":{"x":{"field":"x","type":"quantitative","scale":{"domain":[-100,100],"nice":false},"axis":{"values":[-100,0,100],"labelPadding":12}},"y":{"field":"y","type":"quantitative","scale":{"domain":[-100,100],"nice":false},"axis":{"labels":false}},"color":{"field":"v","type":"quantitative","scale":{"domain":[0,0.0545,0.0619,0.1683,0.1856,0.2475,0.3168,0.3267,0.4406,0.4505,0.495],"range":["#00007f","#0000ff","#0000ff","#00dbff","#15ffe2","#7bff7b","#eeff08","#ffec00","#ff1300","#e80000","#7f0000"]},"legend":null}},"layer":[
{"data":{"name":"sf"},"mark":{"type":"area","orient":"horizontal","interpolate":"monotone"},"encoding":{"x2":{"field":"x2"},"color":{"value":"#0038ff"}}},
{"data":{"name":"df"},"mark":{"type":"point","filled":true,"opacity":1,"strokeWidth":0},"encoding":{"size":{"field":"r","type":"quantitative","scale":{"type":"pow","exponent":2,"domain":[0,100],"range":[0,170569]},"legend":null}}},
{"data":{"name":"gf"},"mark":{"type":"rule","strokeWidth":7,"strokeCap":"round"},"encoding":{"x2":{"field":"x2"},"y2":{"field":"y2"}}},
{"data":{"name":"rf"},"mark":{"type":"rule","strokeWidth":2.5,"strokeCap":"round"},"encoding":{"x2":{"field":"x2"},"y2":{"field":"y2"}}},
{"data":{"name":"bf"},"mark":{"type":"area","orient":"horizontal","interpolate":"monotone"},"encoding":{"x2":{"field":"x2"},"color":{"value":"white"}}},
{"data":{"name":"ticks"},"mark":{"type":"rule","strokeWidth":2,"color":"black"},"encoding":{"x2":{"field":"x2"},"y2":{"field":"y2"},"color":{"value":"black"}}}
]},
{"width":23,"height":418,"data":{"name":"bar"},"encoding":{"y":{"field":"v","type":"quantitative","scale":{"domain":[0,0.495],"nice":false},"axis":{"orient":"right","values":[0,0.05,0.1,0.15,0.2,0.25,0.3,0.35,0.4,0.45],"format":".2f","labelFontSize":41,"labelPadding":13}}},"layer":[
{"mark":{"type":"rect"},"encoding":{"y2":{"field":"w"},"color":{"field":"v","type":"quantitative","scale":{"domain":[0,0.0545,0.0619,0.1683,0.1856,0.2475,0.3168,0.3267,0.4406,0.4505,0.495],"range":["#00007f","#0000ff","#0000ff","#00dbff","#15ffe2","#7bff7b","#eeff08","#ffec00","#ff1300","#e80000","#7f0000"]},"legend":null}}},
{"data":{"name":"barticks"},"mark":{"type":"rule","strokeWidth":2,"color":"black"},"encoding":{"x":{"field":"x","type":"quantitative","scale":{"domain":[0,1]},"axis":null},"x2":{"field":"x2"}}}
]}
]}
